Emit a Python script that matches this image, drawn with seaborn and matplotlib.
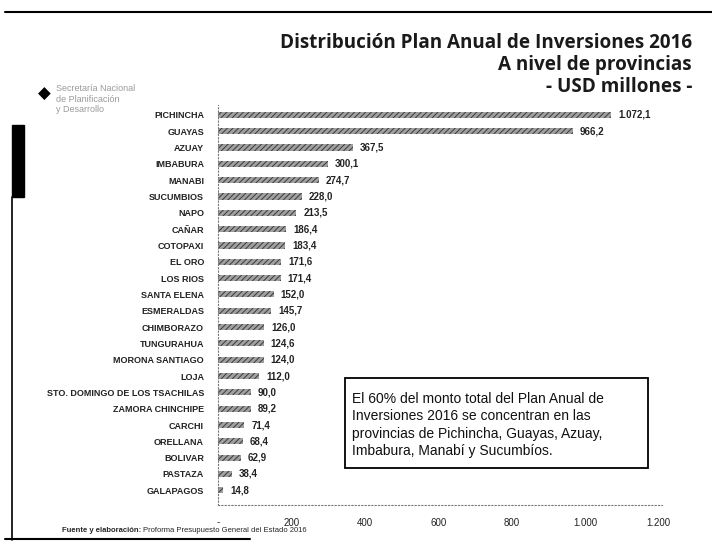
import pandas as pd
import seaborn as sns
import matplotlib.pyplot as plt
from matplotlib.lines import Line2D
from matplotlib.patches import Rectangle

# datos: plan anual de inversiones 2016 por provincia (USD millones)
provincias = ['PICHINCHA', 'GUAYAS', 'AZUAY', 'IMBABURA', 'MANABI', 'SUCUMBIOS',
              'NAPO', 'CAÑAR', 'COTOPAXI', 'EL ORO', 'LOS RIOS', 'SANTA ELENA',
              'ESMERALDAS', 'CHIMBORAZO', 'TUNGURAHUA', 'MORONA SANTIAGO', 'LOJA',
              'STO. DOMINGO DE LOS TSACHILAS', 'ZAMORA CHINCHIPE', 'CARCHI',
              'ORELLANA', 'BOLIVAR', 'PASTAZA', 'GALAPAGOS']
montos = [1072.1, 966.2, 367.5, 300.1, 274.7, 228.0, 213.5, 186.4, 183.4, 171.6,
          171.4, 152.0, 145.7, 126.0, 124.6, 124.0, 112.0, 90.0, 89.2, 71.4,
          68.4, 62.9, 38.4, 14.8]
ticks_x = [0, 200, 400, 600, 800, 1000, 1200]
ticks_x_txt = ['-', '200', '400', '600', '800', '1.000', '1.200']

titulo = ['Distribución Plan Anual de Inversiones 2016',
          'A nivel de provincias',
          '- USD millones -']
nota = ('El 60% del monto total del Plan Anual de\n'
        'Inversiones 2016 se concentran en las\n'
        'provincias de Pichincha, Guayas, Azuay,\n'
        'Imbabura, Manabí y Sucumbíos.')


def fmt_es(v):
    # 1072.1 -> "1.072,1"
    return f'{v:,.1f}'.replace(',', 'X').replace('.', ',').replace('X', '.')


df = pd.DataFrame({'Provincia': provincias, 'Monto': montos})

sns.set_style('white')
plt.rcParams['font.family'] = ['Liberation Sans Narrow', 'Liberation Sans', 'DejaVu Sans']
plt.rcParams['hatch.linewidth'] = 0.7
plt.rcParams['hatch.color'] = '#3a3a3a'

W, H = 712, 542
fig = plt.figure(figsize=(W / 100, H / 100), dpi=100)
fig.patch.set_facecolor('white')
ax = fig.add_axes([218 / W, (H - 505) / H, 444 / W, 400 / H])

sns.barplot(data=df, x='Monto', y='Provincia', orient='h', color='#a0a0a0',
            width=0.38, ax=ax)
for p in ax.patches:
    p.set_hatch('//////')
    p.set_edgecolor('#3a3a3a')
    p.set_linewidth(0)

ax.bar_label(ax.containers[0], labels=[fmt_es(v) for v in montos], padding=5,
             fontsize=7, fontweight='bold', color='#222222')

ax.set_xlim(0, 1210)
ax.set_ylim(23.9, -0.6)
ax.set_xticks(ticks_x)
ax.set_xticklabels(ticks_x_txt)
ax.set_xlabel('')
ax.set_ylabel('')
ax.tick_params(axis='x', length=0, pad=9, labelsize=7, labelcolor='#222222')
ax.tick_params(axis='y', length=0, pad=10, labelsize=6.5, labelcolor='#222222')
for lbl in ax.get_yticklabels():
    lbl.set_fontweight('bold')
for s in ['top', 'right']:
    ax.spines[s].set_visible(False)
for s in ['left', 'bottom']:
    ax.spines[s].set_linestyle((0, (1, 2)))
    ax.spines[s].set_color('#777777')
    ax.spines[s].set_linewidth(0.8)

# titulo
for t, yy in zip(titulo, [43, 65, 87]):
    fig.text(692 / W, 1 - yy / H, t, ha='right', va='center', fontsize=13.6,
             fontweight='bold', family=['Open Sans', 'DejaVu Sans'],
             color='#1a1a1a')

# logo (texto gris)
fig.text(38 / W, 1 - 94 / H, '◆', fontsize=12, color='black',
         family='DejaVu Sans', ha='left', va='center')
fig.text(56 / W, 1 - 99 / H, 'Secretaría Nacional\nde Planificación\ny Desarrollo',
         fontsize=6.5, color='#9a9a9a', ha='left', va='center', linespacing=1.15)

# recuadro con nota
fig.add_artist(Rectangle((345 / W, 1 - 468 / H), 303 / W, 90 / H,
                         transform=fig.transFigure, fill=False,
                         edgecolor='black', linewidth=1.3))
fig.text(352 / W, 1 - 425 / H, nota, ha='left', va='center', fontsize=10,
         family=['Liberation Sans', 'DejaVu Sans'], linespacing=1.3,
         color='#111111')

# fuente
t1 = fig.text(62 / W, 1 - 530 / H, 'Fuente y elaboración:', fontsize=5.5,
              fontweight='bold', ha='left', va='center')
fig.canvas.draw()
bb = t1.get_window_extent()
fig.text((bb.x1 + 2) / W, 1 - 530 / H,
         'Proforma Presupuesto General del Estado 2016', fontsize=5.5,
         ha='left', va='center')

# marco del documento escaneado
fig.add_artist(Line2D([5 / W, 1], [1 - 12 / H, 1 - 12 / H],
                      transform=fig.transFigure, color='black', linewidth=1.5))
fig.add_artist(Line2D([12 / W, 12 / W], [1 - 197 / H, 1 - 540 / H],
                      transform=fig.transFigure, color='black', linewidth=1.2))
fig.add_artist(Line2D([5 / W, 250 / W], [1 - 539 / H, 1 - 539 / H],
                      transform=fig.transFigure, color='black', linewidth=1.5))
fig.add_artist(Rectangle((12 / W, 1 - 197 / H), 12 / W, 72 / H,
                         transform=fig.transFigure, color='black'))

fig.savefig('out.png', dpi=100)
